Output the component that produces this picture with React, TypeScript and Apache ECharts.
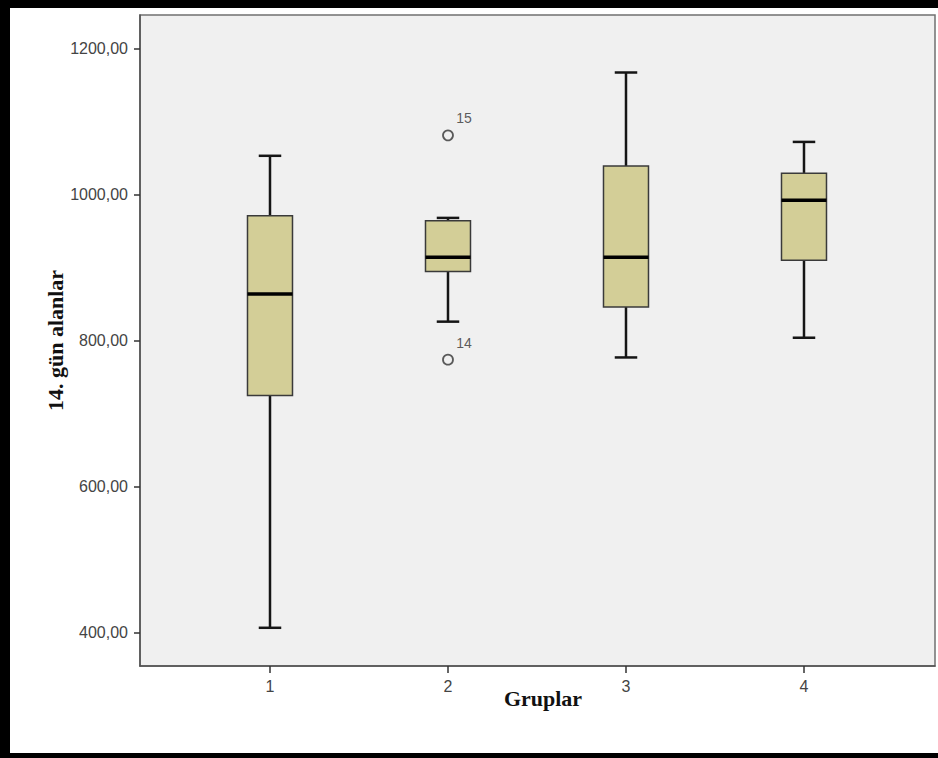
import React, { useEffect, useRef } from "react";
import * as echarts from "echarts";

// ---- data ----
const categories = ["1", "2", "3", "4"];
const lowWhisker = [407, 826, 777, 804];
const q1 = [725, 894.5, 846, 910];
const median = [864, 914, 914, 992];
const q3 = [971, 964, 1039, 1029];
const highWhisker = [1053, 968, 1167, 1072];
const outlierGroup = [2, 2];
const outlierValue = [1081, 774];
const outlierLabel = ["15", "14"];
const yTicks = [400, 600, 800, 1000, 1200];
const yTitle = "14. gün alanlar";
const xTitle = "Gruplar";

export default function App() {
  const ref = useRef<HTMLDivElement>(null);

  useEffect(() => {
    if (!ref.current) return;
    const chart = echarts.init(ref.current, undefined, { renderer: "svg" });

    const xPositions = categories.map((_, i) => i + 1);
    const boxData = categories.map((_, i) => [
      i + 1,
      lowWhisker[i],
      q1[i],
      median[i],
      q3[i],
      highWhisker[i],
    ]);
    const outlierData = outlierValue.map((v, i) => ({
      value: [outlierGroup[i], v],
      name: outlierLabel[i],
    }));

    const option: any = {
      animation: false,
      backgroundColor: "#ffffff",
      grid: {
        left: 140,
        right: 3,
        top: 15,
        bottom: 92,
        show: true,
        backgroundColor: "#F0F0F0",
        borderColor: "#707070",
        borderWidth: 1.5,
      },
      xAxis: {
        type: "value",
        min: 0.2697,
        max: 4.736,
        splitLine: { show: false },
        axisLine: { show: true, lineStyle: { color: "#505050", width: 1.5 } },
        axisTick: {
          show: true,
          length: 7,
          customValues: xPositions,
          lineStyle: { color: "#333", width: 1.5 },
        },
        axisLabel: {
          customValues: xPositions,
          margin: 12,
          fontFamily: "Liberation Sans, Arial, sans-serif",
          fontSize: 16,
          color: "#444",
          formatter: (v: number) => categories[Math.round(v) - 1] ?? "",
        },
        name: xTitle,
        nameLocation: "middle",
        nameGap: 21,
        nameMoveOverlap: false,
        nameTextStyle: {
          fontFamily: "Liberation Serif, Times New Roman, serif",
          fontWeight: "bold",
          fontSize: 22,
          color: "#111",
          padding: [0, 0, 0, 11],
        },
      },
      yAxis: {
        type: "value",
        min: 354.7,
        max: 1245.7,
        splitLine: { show: false },
        axisLine: { show: true, lineStyle: { color: "#505050", width: 1.5 } },
        axisTick: {
          show: true,
          length: 6,
          customValues: yTicks,
          lineStyle: { color: "#333", width: 1.5 },
        },
        axisLabel: {
          customValues: yTicks,
          margin: 12,
          fontFamily: "Liberation Sans, Arial, sans-serif",
          fontSize: 16,
          color: "#444",
          formatter: (v: number) => v.toFixed(2).replace(".", ","),
        },
        name: yTitle,
        nameLocation: "middle",
        nameRotate: 90,
        nameGap: 74,
        nameMoveOverlap: false,
        nameTextStyle: {
          fontFamily: "Liberation Serif, Times New Roman, serif",
          fontWeight: "bold",
          fontSize: 22,
          color: "#111",
        },
      },
      graphic: [
        { type: "rect", shape: { x: 0, y: 0, width: 938, height: 8 }, style: { fill: "#000" }, z: 100 },
        { type: "rect", shape: { x: 0, y: 0, width: 10, height: 758 }, style: { fill: "#000" }, z: 100 },
        { type: "rect", shape: { x: 0, y: 753, width: 938, height: 5 }, style: { fill: "#000" }, z: 100 },
      ],
      series: [
        {
          type: "custom",
          data: boxData,
          encode: { x: 0, y: [1, 2, 3, 4, 5] },
          renderItem: (params: any, api: any) => {
            const x = api.value(0);
            const pLow = api.coord([x, api.value(1)]);
            const pQ1 = api.coord([x, api.value(2)]);
            const pMed = api.coord([x, api.value(3)]);
            const pQ3 = api.coord([x, api.value(4)]);
            const pHigh = api.coord([x, api.value(5)]);
            const w = api.size([0.2528, 0])[0];
            const cap = w / 2;
            const cx = pLow[0];
            const wStyle = { stroke: "#151515", lineWidth: 2.5 };
            return {
              type: "group",
              children: [
                { type: "line", shape: { x1: cx, y1: pHigh[1], x2: cx, y2: pQ3[1] }, style: wStyle },
                { type: "line", shape: { x1: cx, y1: pQ1[1], x2: cx, y2: pLow[1] }, style: wStyle },
                {
                  type: "rect",
                  shape: { x: cx - w / 2, y: pQ3[1], width: w, height: pQ1[1] - pQ3[1] },
                  style: { fill: "#D3CE97", stroke: "#3a3a3a", lineWidth: 1.5 },
                },
                {
                  type: "line",
                  shape: { x1: cx - w / 2, y1: pMed[1], x2: cx + w / 2, y2: pMed[1] },
                  style: { stroke: "#000", lineWidth: 3.5 },
                },
                { type: "line", shape: { x1: cx - cap / 2, y1: pHigh[1], x2: cx + cap / 2, y2: pHigh[1] }, style: wStyle },
                { type: "line", shape: { x1: cx - cap / 2, y1: pLow[1], x2: cx + cap / 2, y2: pLow[1] }, style: wStyle },
              ],
            };
          },
        },
        {
          type: "scatter",
          data: outlierData,
          symbol: "circle",
          symbolSize: 10,
          itemStyle: { color: "#F0F0F0", borderColor: "#333", borderWidth: 1.8 },
          label: {
            show: true,
            position: "inside",
            offset: [16, -17],
            formatter: (p: any) => p.name,
            fontFamily: "Liberation Sans, Arial, sans-serif",
            fontSize: 14,
            color: "#333",
          },
        },
      ],
    };

    chart.setOption(option);
    return () => chart.dispose();
  }, []);

  return (
    <div
      ref={ref}
      style={{ position: "absolute", left: 0, top: 0, width: 938, height: 758, background: "#fff" }}
    />
  );
}
